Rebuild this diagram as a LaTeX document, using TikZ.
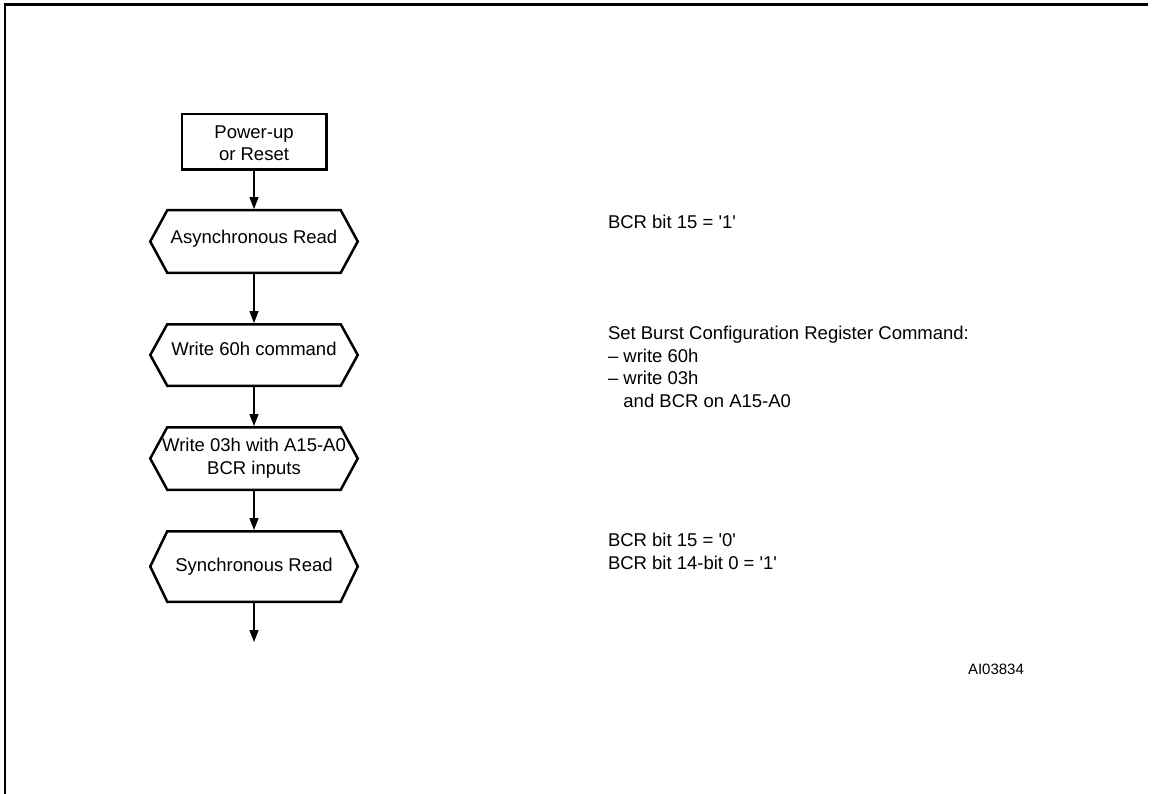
\documentclass[tikz,border=0pt]{standalone}
\usepackage{fontspec}
\setmainfont{Liberation Sans}
\usetikzlibrary{arrows.meta}
\newcommand{\sq}{\textquotesingle}
\begin{document}
\begin{tikzpicture}[x=1pt,y=-1pt,
  txt/.style={font=\fontsize{18.5pt}{22.7pt}\selectfont, inner sep=0pt, outer sep=0pt},
  startbox/.style={txt, draw, line width=2.5pt, minimum width=144.5pt, minimum height=55.5pt, align=center},
  hexbox/.style={txt, minimum width=207.5pt, minimum height=#1, align=center},
  hexline/.style={line width=2.5pt, line join=miter},
  flow/.style={line width=1.1pt, -{Triangle[length=12pt,width=9pt]}, shorten >=1.2pt},
  note/.style={txt, anchor=base west, align=left},
  frame/.style={line width=2.5pt}]
  \useasboundingbox (0,0) rectangle (1153,794);

  % open frame: top and left rules
  \draw[frame] (5,794) -- (5,4.3) -- (1148,4.3);

  % flow chart
  \node[startbox, text height=41.9pt, text depth=3.9pt] (start) at (254,142) {Power-up\\or Reset};
  \node[hexbox=62.5pt, text height=13.5pt, text depth=9.9pt] (async) at (254,241.5) {Asynchronous Read};
  \node[hexbox=61.5pt, text height=13.5pt, text depth=13.5pt] (w60) at (254,355) {Write 60h command};
  \node[hexbox=62.5pt] (w03) at (254,458.5) {Write 03h with A15-A0\\BCR inputs};
  \node[hexbox=70.5pt] (sync) at (254,566.5) {Synchronous Read};
  \coordinate (tail) at (254,642);

  \foreach \n in {async,w60,w03,sync}
    \draw[hexline] (\n.west) -- ([xshift=17pt]\n.north west) -- ([xshift=-17pt]\n.north east)
      -- (\n.east) -- ([xshift=-17pt]\n.south east) -- ([xshift=17pt]\n.south west) -- cycle;

  \draw[flow] (start.south) -- (async.north);
  \draw[flow] (async.south) -- (w60.north);
  \draw[flow] (w60.south) -- (w03.north);
  \draw[flow] (w03.south) -- (sync.north);
  \draw[flow, shorten >=0pt] (sync.south) -- (tail);

  % notes on the right (base anchor = baseline of the last line)
  \node[note] (n1) at (608,228.3) {BCR bit 15 = \sq1\sq};
  \node[note] (n2) at (608,407.4) {Set Burst Configuration Register Command:\\
    -- write 60h\\-- write 03h\\\phantom{-- }and BCR on A15-A0};
  \node[note] (n3) at (608,569.4) {BCR bit 15 = \sq0\sq\\BCR bit 14-bit 0 = \sq1\sq};
  \node[note, font=\fontsize{15pt}{18pt}\selectfont] (code) at (968,674) {AI03834};
\end{tikzpicture}
\end{document}
